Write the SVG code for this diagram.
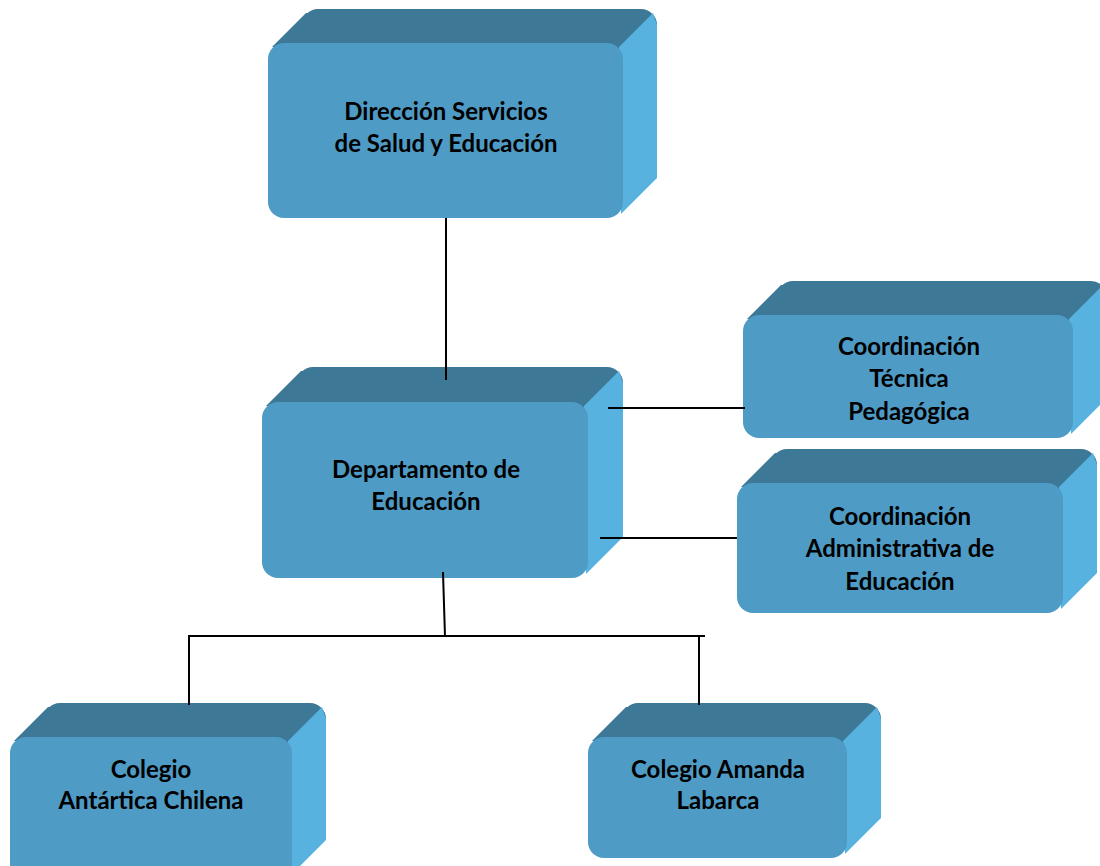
<svg xmlns="http://www.w3.org/2000/svg" width="1100" height="866" viewBox="0 0 1100 866">
<defs>
<style>
.top{fill:#3D7897}
.side{fill:#57B2E0}
.front{fill:#4E9BC6}
.lbl{font-family:Lato,"Liberation Sans",sans-serif;font-weight:700;font-size:24px;fill:#000;text-anchor:middle}
.conn line{stroke:#000;stroke-width:2}
</style>
</defs>
<rect width="1100" height="866" fill="#fff"/>
<g id="n1">
<rect class="top" x="302" y="9" width="355" height="175" rx="16"/>
<polygon class="top" points="272,47 306,13 320,13 320,47"/>
<polygon class="side" points="619,47 653,13 657,25 657,178 621,214"/>
<rect class="front" x="268" y="43" width="355" height="175" rx="16"/>
<text class="lbl" x="446" y="120">Dirección Servicios</text>
<text class="lbl" x="446" y="152">de Salud y Educación</text>
</g>
<g id="n2">
<rect class="top" x="297" y="367" width="326" height="176" rx="16"/>
<polygon class="top" points="266,406 301,371 315,371 315,406"/>
<polygon class="side" points="584,406 619,371 623,383 623,537 586,574"/>
<rect class="front" x="262" y="402" width="326" height="176" rx="16"/>
<text class="lbl" x="426" y="478">Departamento de</text>
<text class="lbl" x="426" y="510">Educación</text>
</g>
<g id="n3">
<rect class="top" x="777" y="281" width="330" height="123" rx="16"/>
<polygon class="top" points="747,319 781,285 795,285 795,319"/>
<polygon class="side" points="1069,319 1103,285 1107,297 1107,398 1071,434"/>
<rect class="front" x="743" y="315" width="330" height="123" rx="16"/>
<text class="lbl" x="909" y="355">Coordinación</text>
<text class="lbl" x="909" y="387">Técnica</text>
<text class="lbl" x="909" y="420">Pedagógica</text>
</g>
<g id="n4">
<rect class="top" x="771" y="449" width="326" height="130" rx="16"/>
<polygon class="top" points="741,487 775,453 789,453 789,487"/>
<polygon class="side" points="1059,487 1093,453 1097,465 1097,573 1061,609"/>
<rect class="front" x="737" y="483" width="326" height="130" rx="16"/>
<text class="lbl" x="900" y="525">Coordinación</text>
<text class="lbl" x="900" y="557">Administrativa de</text>
<text class="lbl" x="900" y="590">Educación</text>
</g>
<g id="n5">
<rect class="top" x="44" y="703" width="282" height="143" rx="16"/>
<polygon class="top" points="14,741 48,707 62,707 62,741"/>
<polygon class="side" points="288,741 322,707 326,719 326,840 290,876"/>
<rect class="front" x="10" y="737" width="282" height="143" rx="16"/>
<text class="lbl" x="151" y="778">Colegio</text>
<text class="lbl" x="151" y="809">Antártica Chilena</text>
</g>
<g id="n6">
<rect class="top" x="622" y="703" width="259" height="121" rx="16"/>
<polygon class="top" points="592,741 626,707 640,707 640,741"/>
<polygon class="side" points="843,741 877,707 881,719 881,818 845,854"/>
<rect class="front" x="588" y="737" width="259" height="121" rx="16"/>
<text class="lbl" x="718" y="778">Colegio Amanda</text>
<text class="lbl" x="718" y="809">Labarca</text>
</g>
<g id="conn" class="conn">
<line x1="446" y1="218" x2="446" y2="380"/>
<line x1="608" y1="408" x2="745" y2="408"/>
<line x1="600" y1="538" x2="737" y2="538"/>
<line x1="443" y1="572" x2="445" y2="637"/>
<line x1="188" y1="636" x2="705" y2="636"/>
<line x1="189" y1="636" x2="189" y2="705"/>
<line x1="699" y1="636" x2="699" y2="705"/>
</g>
</svg>
